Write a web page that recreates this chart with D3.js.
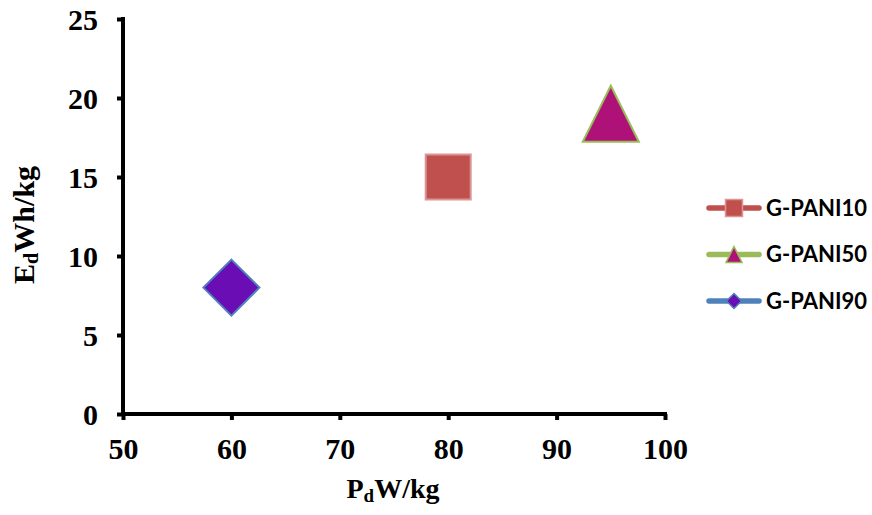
<!DOCTYPE html>
<html>
<head>
<meta charset="utf-8">
<script src="https://cdn.jsdelivr.net/npm/d3@7"></script>
<style>
  html, body { margin: 0; padding: 0; background: #fff; }
  svg { display: block; }
</style>
</head>
<body>
<svg id="chart" width="872" height="515"></svg>
<script>
const seriesNames = ["G-PANI10", "G-PANI50", "G-PANI90"];
const powerDensity = [80, 95, 60];      // Pd W/kg
const energyDensity = [15, 19, 8];      // Ed Wh/kg
const xTicks = [50, 60, 70, 80, 90, 100];
const yTicks = [0, 5, 10, 15, 20, 25];

// Excel-like marker shapes (width w, drawn centred in their box)
const squareShape = { draw(ctx, w) { const h = w / 2; ctx.moveTo(-h, -h); ctx.lineTo(h, -h); ctx.lineTo(h, h); ctx.lineTo(-h, h); ctx.closePath(); } };
const triangleShape = { draw(ctx, w) { const h = w / 2; ctx.moveTo(0, -h); ctx.lineTo(h, h); ctx.lineTo(-h, h); ctx.closePath(); } };
const diamondShape = { draw(ctx, w) { const h = w / 2; ctx.moveTo(0, -h); ctx.lineTo(h, 0); ctx.lineTo(0, h); ctx.lineTo(-h, 0); ctx.closePath(); } };

const styles = [
  { shape: squareShape,   fill: "#C0504D", stroke: "#D99694", line: "#C0504D", size: 45, legSize: 17 },
  { shape: triangleShape, fill: "#AE1279", stroke: "#9BBB59", line: "#9BBB59", size: 56, legSize: 16 },
  { shape: diamondShape,  fill: "#6A0DB5", stroke: "#4F81BD", line: "#4F81BD", size: 56, legSize: 15 }
];

const svg = d3.select("#chart");
const x = d3.scaleLinear().domain([50, 100]).range([123, 665]);
const y = d3.scaleLinear().domain([0, 25]).range([414, 19]);

const serif = "'Liberation Serif', 'Times New Roman', serif";

// axes
const xAxis = svg.append("g").attr("transform", "translate(0,414)")
  .call(d3.axisBottom(x).tickValues(xTicks).tickSize(6).tickSizeOuter(0).tickPadding(19));
const yAxis = svg.append("g").attr("transform", "translate(123,0)")
  .call(d3.axisLeft(y).tickValues(yTicks).tickSize(6).tickSizeOuter(0).tickPadding(19));

[xAxis, yAxis].forEach(g => {
  g.attr("font-size", null).attr("font-family", null);
  g.select(".domain").attr("stroke", "#000").attr("stroke-width", 4);
  g.selectAll(".tick line").attr("stroke", "#000").attr("stroke-width", 4);
  g.selectAll(".tick text").attr("fill", "#000")
    .style("font-family", serif).style("font-weight", "bold").style("font-size", "30px");
});
xAxis.select(".domain").attr("d", `M${x(50)-2},0H${x(100)+2}`);
yAxis.select(".domain").attr("d", `M0,${y(25)-2}V${y(0)+2}`);
yAxis.selectAll(".tick text").attr("dy", "0.34em");
xAxis.selectAll(".tick text").attr("dy", "0.66em");

// axis titles
const xt = svg.append("text").attr("x", 393).attr("y", 498).attr("text-anchor", "middle")
  .style("font-family", serif).style("font-weight", "bold").style("font-size", "28px").attr("fill", "#000");
xt.append("tspan").text("P");
xt.append("tspan").text("d").style("font-size", "19px").attr("dy", 4);
xt.append("tspan").text("W/kg").attr("dy", -4);

const yt = svg.append("text").attr("transform", "translate(34,225) rotate(-90)").attr("text-anchor", "middle")
  .style("font-family", serif).style("font-weight", "bold").style("font-size", "30px").attr("fill", "#000");
yt.append("tspan").text("E");
yt.append("tspan").text("d").style("font-size", "20px").attr("dy", 4);
yt.append("tspan").text("Wh/kg").attr("dy", -4);

// points
const pts = seriesNames.map((n, i) => ({ name: n, px: powerDensity[i], ey: energyDensity[i], st: styles[i] }));
svg.append("g").selectAll("path").data(pts).join("path")
  .attr("transform", d => `translate(${x(d.px)},${y(d.ey)})`)
  .attr("d", d => d3.symbol().type(d.st.shape).size(d.st.size)())
  .attr("fill", d => d.st.fill)
  .attr("stroke", d => d.st.stroke)
  .attr("stroke-width", 2);

// legend
const leg = svg.append("g");
const rowY = [208, 254.5, 301];
pts.forEach((d, i) => {
  const g = leg.append("g").attr("transform", `translate(0,${rowY[i]})`);
  g.append("line").attr("x1", 709).attr("x2", 759).attr("y1", 0).attr("y2", 0)
    .attr("stroke", d.st.line).attr("stroke-width", 5.5).attr("stroke-linecap", "round");
  g.append("path").attr("transform", "translate(734,0)")
    .attr("d", d3.symbol().type(d.st.shape).size(d.st.legSize)())
    .attr("fill", d.st.fill).attr("stroke", d.st.stroke).attr("stroke-width", 1.5);
  g.append("text").attr("x", 766).attr("y", 0).attr("dy", "0.36em")
    .text(d.name)
    .style("font-family", "Lato, 'Open Sans', sans-serif").style("font-weight", "bold").style("font-size", "22px")
    .attr("fill", "#000");
});
</script>
</body>
</html>
